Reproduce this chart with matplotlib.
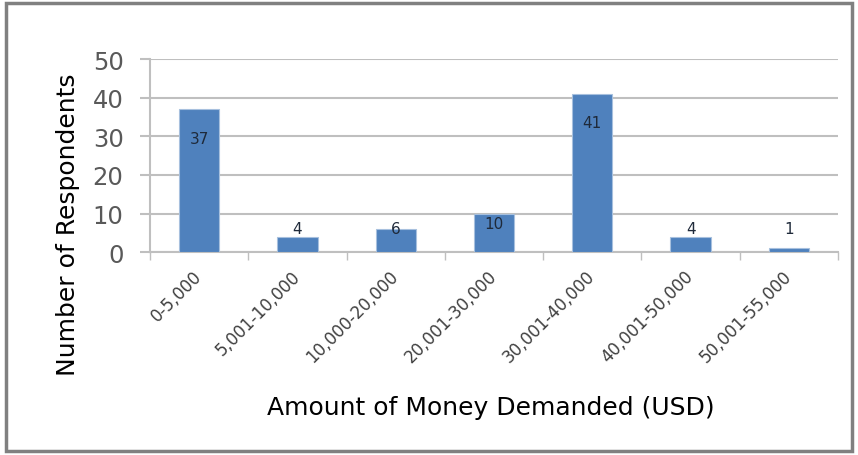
import matplotlib.pyplot as plt
from matplotlib.patches import Rectangle
import numpy as np

plt.rcParams['font.family'] = ['DejaVu Sans']

# respondents per demanded amount
categorias = ["0-5,000", "5,001-10,000", "10,000-20,000", "20,001-30,000",
              "30,001-40,000", "40,001-50,000", "50,001-55,000"]
respondentes = [37, 4, 6, 10, 41, 4, 1]
y_ticks = [0, 10, 20, 30, 40, 50]

AZUL = "#4F81BD"
CINZA = "#BFBFBF"

fig = plt.figure(figsize=(8.58, 4.56), dpi=100)
ax = fig.add_axes([0.1748, 0.445, 0.802, 0.423])

x = np.arange(len(categorias))
ax.bar(x, respondentes, width=0.41, color=AZUL, edgecolor="#A7C0DE",
       linewidth=0.8, zorder=3)

# rotulos de valor
for xi, v in zip(x, respondentes):
    if v >= 20:
        ypos = v - 7.5
    else:
        ypos = max(v - 2.7, 6.0)
    ax.text(xi, ypos, str(v), ha="center", va="center", fontsize=11,
            color="#1F2A3A", zorder=4)

ax.set_xlim(-0.5, len(categorias) - 0.5)
ax.set_ylim(0, 50)
ax.set_yticks(y_ticks)
ax.set_yticklabels([str(t) for t in y_ticks], fontsize=17.5, color="#595959")
ax.yaxis.grid(True, color=CINZA, linewidth=1.5, zorder=0)
ax.tick_params(axis="y", length=7, width=1.5, color=CINZA, pad=12)

ax.set_xticks(x)
ax.set_xticklabels(categorias, rotation=45, ha="right", va="center",
                   rotation_mode="anchor", fontsize=12, color="#404040")
ax.tick_params(axis="x", length=0, pad=15)
# marcas entre categorias
ax.set_xticks(np.arange(len(categorias) + 1) - 0.5, minor=True)
ax.tick_params(axis="x", which="minor", length=6, width=1, color=CINZA)

for s in ["top", "right"]:
    ax.spines[s].set_visible(False)
ax.spines["left"].set_color(CINZA)
ax.spines["left"].set_linewidth(1.5)
ax.spines["bottom"].set_color(CINZA)
ax.spines["bottom"].set_linewidth(1.5)

fig.text(0.079, 0.508, "Number of Respondents", ha="center", va="center",
         rotation=90, fontsize=18)
fig.text(0.572, 0.105, "Amount of Money Demanded (USD)", ha="center",
         va="center", fontsize=18)

# moldura do grafico
fig.patches.append(Rectangle((0.007, 0.008), 0.986, 0.983,
                             transform=fig.transFigure, fill=False,
                             edgecolor="#808080", linewidth=2.5))

fig.savefig("out.png", dpi=100)
